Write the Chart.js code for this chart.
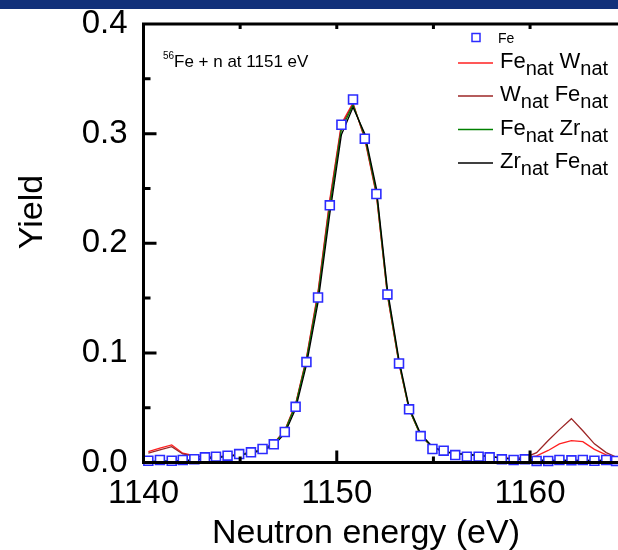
<!DOCTYPE html>
<html>
<head>
<meta charset="utf-8">
<script src="https://cdn.jsdelivr.net/npm/chart.js@4"></script>
<style>
  html, body { margin: 0; padding: 0; background: #fff; overflow: hidden; }
  #bar { position: absolute; left: 0; top: 0; width: 618px; height: 9px; background: #12317a; }
  #wrap { position: absolute; left: 0; top: 0; width: 618px; height: 550px; }
</style>
</head>
<body>
<div id="wrap"><canvas id="yieldChart"></canvas></div>
<div id="bar"></div>
<script>
// neutron energy grid (eV)
const energy = [
    1140.25, 1140.85, 1141.46, 1142.03, 1142.63, 1143.18, 1143.75, 1144.35, 1144.95, 1145.56,
    1146.16, 1146.74, 1147.31, 1147.87, 1148.43, 1149.03, 1149.64, 1150.24, 1150.84, 1151.45,
    1152.05, 1152.62, 1153.22, 1153.74, 1154.34, 1154.95, 1155.53, 1156.13, 1156.73, 1157.34,
    1157.91, 1158.54, 1159.15, 1159.73, 1160.34, 1160.94, 1161.52, 1162.14, 1162.73, 1163.33,
    1163.94, 1164.45
];

// Fe (open squares)
const yieldFe = [
    0.0016, 0.0023, 0.0016, 0.0023, 0.0030, 0.0047, 0.0053, 0.0062, 0.0077, 0.0093,
    0.0123, 0.0166, 0.0278, 0.0508, 0.0916, 0.1505, 0.2346, 0.3081, 0.3312, 0.2954,
    0.2449, 0.1533, 0.0904, 0.0485, 0.0241, 0.0123, 0.0108, 0.0068, 0.0053, 0.0053,
    0.0047, 0.0029, 0.0023, 0.0029, 0.0014, 0.0014, 0.0023, 0.0020, 0.0023, 0.0016,
    0.0023, 0.0014
];

// Fe_nat W_nat
const yieldFeW = [
    0.0100, 0.0130, 0.0160, 0.0085, 0.0062, 0.0050, 0.0052, 0.0060, 0.0075, 0.0092,
    0.0122, 0.0175, 0.0295, 0.0535, 0.0955, 0.1560, 0.2400, 0.3090, 0.3280, 0.2950,
    0.2440, 0.1525, 0.0900, 0.0485, 0.0245, 0.0138, 0.0100, 0.0080, 0.0070, 0.0062,
    0.0052, 0.0042, 0.0036, 0.0040, 0.0060, 0.0110, 0.0170, 0.0200, 0.0190, 0.0120,
    0.0070, 0.0040
];

// W_nat Fe_nat
const yieldWFe = [
    0.0085, 0.0115, 0.0145, 0.0078, 0.0058, 0.0048, 0.0050, 0.0058, 0.0073, 0.0090,
    0.0120, 0.0172, 0.0290, 0.0530, 0.0945, 0.1545, 0.2380, 0.3070, 0.3270, 0.2960,
    0.2450, 0.1530, 0.0905, 0.0488, 0.0247, 0.0139, 0.0100, 0.0080, 0.0070, 0.0062,
    0.0052, 0.0042, 0.0038, 0.0045, 0.0090, 0.0200, 0.0300, 0.0400, 0.0290, 0.0170,
    0.0090, 0.0050
];

// Fe_nat Zr_nat
const yieldFeZr = [
    0.0010, 0.0012, 0.0014, 0.0018, 0.0025, 0.0038, 0.0048, 0.0058, 0.0072, 0.0090,
    0.0118, 0.0168, 0.0285, 0.0520, 0.0930, 0.1510, 0.2330, 0.3040, 0.3260, 0.2980,
    0.2470, 0.1550, 0.0915, 0.0490, 0.0250, 0.0140, 0.0100, 0.0082, 0.0072, 0.0064,
    0.0054, 0.0040, 0.0030, 0.0026, 0.0022, 0.0020, 0.0020, 0.0020, 0.0020, 0.0020,
    0.0020, 0.0020
];

// Zr_nat Fe_nat
const yieldZrFe = [
    0.0008, 0.0010, 0.0012, 0.0016, 0.0022, 0.0035, 0.0045, 0.0055, 0.0068, 0.0085,
    0.0110, 0.0155, 0.0265, 0.0490, 0.0890, 0.1460, 0.2270, 0.2990, 0.3240, 0.3000,
    0.2500, 0.1580, 0.0935, 0.0505, 0.0260, 0.0145, 0.0102, 0.0084, 0.0074, 0.0065,
    0.0055, 0.0040, 0.0030, 0.0026, 0.0022, 0.0020, 0.0020, 0.0020, 0.0020, 0.0020,
    0.0020, 0.0020
];

const seriesLabels = ['Fe', 'Fe_{nat} W_{nat}', 'W_{nat} Fe_{nat}', 'Fe_{nat} Zr_{nat}', 'Zr_{nat} Fe_{nat}'];
const xTicks = [1140, 1150, 1160];
const yTicks = [0.0, 0.1, 0.2, 0.3, 0.4];

const FONT = "'Liberation Sans', Arial, Helvetica, sans-serif";

function points(ys) {
    return energy.map((e, i) => ({x: e, y: ys[i]}));
}

function lineSet(label, ys, color, order) {
    return {
        label: label,
        data: points(ys),
        borderColor: color,
        backgroundColor: color,
        borderWidth: 1.3,
        pointRadius: 0,
        tension: 0,
        showLine: true,
        order: order
    };
}

// draws 'Fe_{nat} W_{nat}' with real subscripts
function drawRich(ctx, str, x, y, size, subSize, subDrop) {
    const parts = str.split(/(_\{[^}]*\})/).filter(Boolean);
    for (const p of parts) {
        const sub = p.startsWith('_{');
        const t = sub ? p.slice(2, -1) : p;
        ctx.font = (sub ? subSize : size) + 'px ' + FONT;
        ctx.fillText(t, x, sub ? y + subDrop : y);
        x += ctx.measureText(t).width;
    }
}

const framePlugin = {
    id: 'frame',
    afterDraw(chart) {
        const ctx = chart.ctx;
        const a = chart.chartArea;
        const xs = chart.scales.x, ys = chart.scales.y;
        ctx.save();
        ctx.strokeStyle = '#000';
        ctx.lineWidth = 3;
        ctx.beginPath();
        ctx.moveTo(a.left, a.top - 1.5); ctx.lineTo(a.left, a.bottom + 1.5);
        ctx.moveTo(a.left - 1.5, a.bottom); ctx.lineTo(a.right, a.bottom);
        ctx.moveTo(a.left - 1.5, a.top); ctx.lineTo(a.right, a.top);
        for (let e = 1140; e <= xs.max; e += 5) {
            const px = xs.getPixelForValue(e);
            const major = xTicks.includes(e);
            ctx.moveTo(px, a.bottom); ctx.lineTo(px, a.bottom - (major ? 12 : 6));
            ctx.moveTo(px, a.top); ctx.lineTo(px, a.top + 5);
        }
        for (let i = 0; i <= 8; i++) {
            const py = ys.getPixelForValue(i * 0.05);
            ctx.moveTo(a.left, py); ctx.lineTo(a.left + (i % 2 ? 7 : 13), py);
        }
        ctx.stroke();

        ctx.fillStyle = '#000';
        ctx.textBaseline = 'alphabetic';

        // axis titles
        ctx.font = '34px ' + FONT;
        ctx.textAlign = 'center';
        ctx.fillText('Neutron energy (eV)', 366, 543);
        ctx.save();
        ctx.translate(42, 212);
        ctx.rotate(-Math.PI / 2);
        ctx.fillText('Yield', 0, 0);
        ctx.restore();

        // annotation
        ctx.textAlign = 'left';
        ctx.font = '10px ' + FONT;
        ctx.fillText('56', 163, 59);
        ctx.font = '17px ' + FONT;
        ctx.fillText('Fe + n at 1151 eV', 174, 67);

        // legend, in the order of seriesLabels
        const ds = chart.data.datasets;
        ctx.strokeStyle = ds[0].pointBorderColor;
        ctx.lineWidth = 1.5;
        ctx.fillStyle = '#fff';
        ctx.fillRect(472, 33.5, 8, 8);
        ctx.strokeRect(472, 33.5, 8, 8);
        ctx.fillStyle = '#000';
        ctx.font = '14px ' + FONT;
        ctx.fillText(ds[0].label, 498, 43);
        const rows = [63, 96, 129.5, 163];
        for (let i = 1; i < ds.length; i++) {
            const ry = rows[i - 1];
            ctx.strokeStyle = ds[i].borderColor;
            ctx.lineWidth = 1.3;
            ctx.beginPath();
            ctx.moveTo(458, ry); ctx.lineTo(493, ry);
            ctx.stroke();
            drawRich(ctx, ds[i].label, 500, ry + 5, 22, 20, 7);
        }
        ctx.restore();
    }
};

const ctx = document.getElementById('yieldChart').getContext('2d');
const yieldChart = new Chart(ctx, {
    type: 'line',
    data: {
        datasets: [
            {
                label: seriesLabels[0],
                data: points(yieldFe),
                showLine: false,
                pointStyle: 'rect',
                pointRadius: 6.3,
                pointBackgroundColor: '#fff',
                pointBorderColor: '#2b2bff',
                pointBorderWidth: 1.6,
                clip: false,
                order: 0
            },
            lineSet(seriesLabels[1], yieldFeW, '#ff2020', 4),
            lineSet(seriesLabels[2], yieldWFe, '#9c2626', 3),
            lineSet(seriesLabels[3], yieldFeZr, '#008000', 2),
            lineSet(seriesLabels[4], yieldZrFe, '#000000', 1)
        ]
    },
    options: {
        animation: false,
        responsive: true,
        maintainAspectRatio: false,
        layout: { autoPadding: false, padding: { left: 0, top: 24, right: 0, bottom: 0 } },
        plugins: {
            legend: { display: false },
            tooltip: { enabled: false }
        },
        scales: {
            x: {
                type: 'linear',
                min: 1140,
                max: 1164.55,
                afterFit(s) { s.height = 87.5; s.paddingLeft = 0; s.paddingRight = 0; },
                grid: { display: false, drawTicks: false },
                border: { display: false },
                ticks: {
                    stepSize: 10,
                    includeBounds: false,
                    maxRotation: 0,
                    padding: 12,
                    color: '#000',
                    font: { family: FONT, size: 33 },
                    callback: v => xTicks.includes(v) ? String(v) : ''
                }
            },
            y: {
                min: 0,
                max: 0.4,
                afterFit(s) { s.width = 143.5; s.paddingTop = 0; s.paddingBottom = 0; },
                grid: { display: false, drawTicks: false },
                border: { display: false },
                ticks: {
                    stepSize: 0.1,
                    padding: 16,
                    color: '#000',
                    font: { family: FONT, size: 33 },
                    callback: v => yTicks.some(t => Math.abs(t - v) < 1e-6) ? v.toFixed(1) : ''
                }
            }
        }
    },
    plugins: [framePlugin]
});
</script>
</body>
</html>
